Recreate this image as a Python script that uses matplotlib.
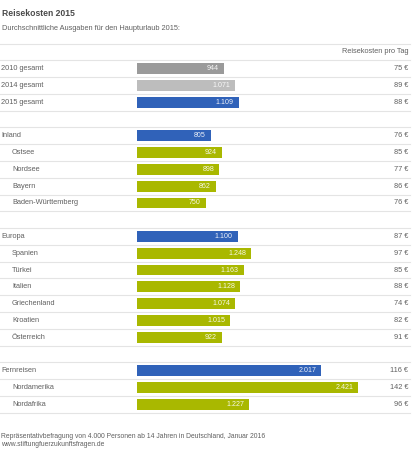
import matplotlib.pyplot as plt
from matplotlib import transforms

plt.rcParams['font.family'] = ['Liberation Sans', 'DejaVu Sans']

labels = ["2010 gesamt", "2014 gesamt", "2015 gesamt", "",
          "Inland", "Ostsee", "Nordsee", "Bayern", "Baden-Württemberg", "",
          "Europa", "Spanien", "Türkei", "Italien", "Griechenland", "Kroatien", "Österreich", "",
          "Fernreisen", "Nordamerika", "Nordafrika"]
ausgaben = [944, 1071, 1109, None,
            805, 924, 898, 862, 750, None,
            1100, 1248, 1163, 1128, 1074, 1015, 922, None,
            2017, 2421, 1227]
pro_tag = [75, 89, 88, None,
           76, 85, 77, 86, 76, None,
           87, 97, 85, 88, 74, 82, 91, None,
           116, 142, 96]
kind = ["y2010", "y2014", "total", "",
        "total", "sub", "sub", "sub", "sub", "",
        "total", "sub", "sub", "sub", "sub", "sub", "sub", "",
        "total", "sub", "sub"]

colors = {"y2010": "#9a9a9a", "y2014": "#bdbdbd", "total": "#3062b9", "sub": "#a9b800"}

W, H = 412, 450
fig = plt.figure(figsize=(W / 100, H / 100), dpi=100)
ax = fig.add_axes([0, 0, 1, 1])
ax.axis("off")

# pixel layout: bar origin at x=137.5, 0.0912 px per euro; rows 16.78 px apart, first row centre at y=68.7
x0, sx = 137.5, 0.0912
y0, pitch = 68.7, 16.78
ax.set_xlim(-x0 / sx, (W - x0) / sx)
ax.set_ylim((H - y0) / pitch, -y0 / pitch)

fx = transforms.blended_transform_factory(fig.transFigure, ax.transData)
txt = "#606060"
fs = 5.3

# grid lines between rows
for b in range(-1, len(labels) + 1):
    ax.plot([0, 0.995], [b - 0.5, b - 0.5], transform=fx, color="#e4e4e4", lw=0.8, zorder=0)

ax.text(408 / W, -1, "Reisekosten pro Tag", transform=fx, ha="right", va="center",
        fontsize=fs, color=txt)

for i, (lab, val, tag, k) in enumerate(zip(labels, ausgaben, pro_tag, kind)):
    if val is None:
        continue
    indent = 12 if k == "sub" else 1
    ax.text(indent / W, i, lab, transform=fx, ha="left", va="center", fontsize=fs, color=txt)
    ax.barh(i, val, height=0.64, left=0, color=colors[k], zorder=2)
    ax.text(val - 5 / sx, i, f"{val:,}".replace(",", "."), ha="right", va="center",
            fontsize=5.1, color="white", alpha=0.9, zorder=3)
    ax.text(408 / W, i, f"{tag} €", transform=fx, ha="right", va="center",
            fontsize=fs, color=txt)

fig.text(2 / W, 1 - 14 / H, "Reisekosten 2015", ha="left", va="center",
         fontsize=6.2, fontweight="bold", color="#4a4a4a")
fig.text(2 / W, 1 - 28 / H, "Durchschnittliche Ausgaben für den Haupturlaub 2015:",
         ha="left", va="center", fontsize=fs, color=txt)
fig.text(1 / W, 1 - 436 / H, "Repräsentativbefragung von 4.000 Personen ab 14 Jahren in Deutschland, Januar 2016",
         ha="left", va="center", fontsize=4.9, color=txt)
fig.text(1 / W, 1 - 444.5 / H, "www.stiftungfuerzukunftsfragen.de",
         ha="left", va="center", fontsize=4.9, color=txt)

fig.savefig("out.png", dpi=100, facecolor="white")
